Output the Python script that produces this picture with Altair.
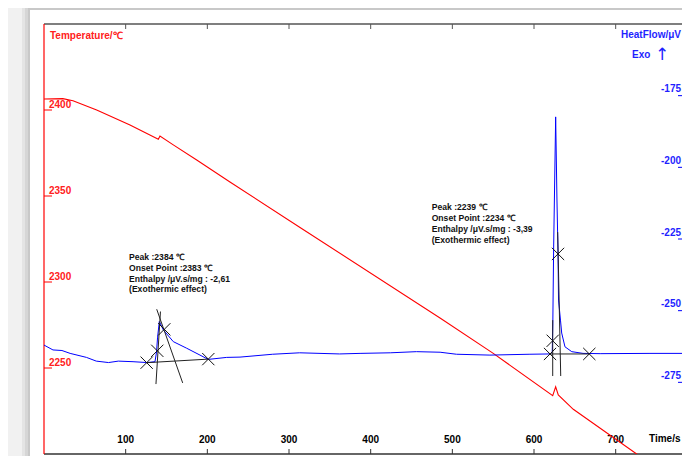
import altair as alt
import pandas as pd

# ---------------- data ----------------
temp_time = [0, 23, 35.5, 64.5, 105.3, 140.0, 142.0, 158.3, 187.0, 227.7, 313.5,
             484.9, 550.1, 622.9, 626.5, 629.7, 648.1, 725.7, 791]
temp_vals = [2406.4, 2406.6, 2405.4, 2400.0, 2391.3, 2383.0, 2384.9, 2379.7, 2370.9,
             2358.1, 2331.7, 2279.1, 2258.5, 2233.9, 2239.1, 2234.3, 2226.0, 2200.0, 2178.0]

hf_time = [0, 11, 22, 32, 52, 64, 79, 91, 109, 126,
           135.9, 137.8, 139.0, 141.2, 146.1, 158.3, 174.7, 191.0, 201.2, 223.7,
           240, 280, 313, 362, 387, 424, 456, 485, 505, 546,
           595, 619.6, 622.3, 623.0, 624.0, 626.5, 628.1, 629.4, 630.0, 632.4,
           633.9, 637.9, 646.2, 660, 681, 742, 791]
hf_vals = [-262.0, -263.7, -263.9, -264.9, -266.3, -267.6, -268.1, -267.6, -267.8, -268.1,
           -267.8, -264.4, -259.5, -253.8, -256.7, -260.8, -263.1, -265.5, -267.0, -266.3,
           -266.2, -265.2, -264.7, -265.1, -264.9, -264.7, -264.3, -264.5, -265.2, -265.5,
           -265.2, -265.1, -264.5, -255.0, -228.8, -182.4, -211.4, -230.2, -246.3, -253.3,
           -257.8, -262.6, -264.3, -264.9, -265.0, -264.9, -264.9]

# tangent / baseline construction lines (time1, time2, hf1, hf2)
tan_t1 = [125.7, 142.6, 138.0, 619.6, 622.9, 629.0]
tan_t2 = [201.2, 137.1, 169.8, 667.7, 622.9, 632.7]
tan_h1 = [-268.15, -250.3, -249.5, -265.1, -253.3, -222.6]
tan_h2 = [-266.9, -275.6, -275.2, -265.1, -272.8, -272.8]

# X markers
cross_t = [125.7, 138.7, 147.3, 201.2, 619.6, 622.9, 629.4, 667.7]
cross_h = [-268.15, -264.0, -256.5, -266.9, -265.1, -260.5, -230.2, -265.1]

# peak annotations
note_t = [104.1, 474.7]
note_h = [-229.9, -212.6]
note_text = [
    "Peak :2384 \u2103\nOnset Point :2383 \u2103\nEnthalpy /\u03bcV.s/mg : -2,61\n\u00a0(Exothermic effect)",
    "Peak :2239 \u2103\nOnset Point :2234 \u2103\nEnthalpy /\u03bcV.s/mg : -3,39\n\u00a0(Exothermic effect)",
]

time_ticks = [100, 200, 300, 400, 500, 600, 700]
temp_ticks = [2250, 2300, 2350, 2400]
hf_ticks = [-275, -250, -225, -200, -175]

# ---------------- styling ----------------
W, H = 638, 430
FONT = "Liberation Sans"
RED = "#ff0000"
BLUE = "#0000ff"
TXT_BLUE = "#1f1fff"
TXT_RED = "#ff2020"

xs = alt.Scale(domain=[0, 781.2], nice=False, zero=False)
ts = alt.Scale(domain=[2200, 2450], nice=False, zero=False)
hs = alt.Scale(domain=[-300, -150], nice=False, zero=False)

one = alt.Data(values=[{}])


def rect(x, x2, y, y2, color):
    return alt.Chart(one).mark_rect(color=color).encode(
        x=alt.value(x), x2=alt.value(x2), y=alt.value(y), y2=alt.value(y2))


def label(txt, x, y, color, size=10, weight="bold", align="left", font=FONT):
    return alt.Chart(one).mark_text(
        text=txt, align=align, baseline="middle", font=font, fontSize=size,
        fontWeight=weight, color=color).encode(x=alt.value(x), y=alt.value(y))


# page + shadow
deco = [
    rect(-22, 700, -22, 460, "#e4e4e4"),
    rect(-19, 700, -19, 460, "#d6d6d6"),
    rect(-16, 700, -16, 460, "#c8c8c8"),
    rect(-14, 700, -14, 460, "#ffffff"),
]

frame = [
    alt.Chart(one).mark_rule(color="#555555", strokeWidth=1.3).encode(
        x=alt.value(0), x2=alt.value(W), y=alt.value(0)),
    alt.Chart(one).mark_rule(color="#333333", strokeWidth=1.3).encode(
        x=alt.value(0), x2=alt.value(W), y=alt.value(H)),
]

# time axis: ticks top & bottom, labels inside
tick_df = pd.DataFrame({"t": time_ticks, "lab": [str(v) for v in time_ticks]})
top_ticks = alt.Chart(tick_df).mark_rule(color="#555555").encode(
    x=alt.X("t:Q", scale=xs, axis=None), y=alt.value(0), y2=alt.value(5))
bottom_ticks = alt.Chart(tick_df).mark_rule(color="#333333").encode(
    x=alt.X("t:Q", scale=xs, axis=None), y=alt.value(H - 5), y2=alt.value(H))
bottom_labels = alt.Chart(tick_df).mark_text(
    align="center", baseline="alphabetic", font=FONT, fontSize=10,
    fontWeight="bold", color="#000000").encode(
    x=alt.X("t:Q", scale=xs, axis=None), y=alt.value(H - 11), text="lab:N")

# ---------------- temperature group ----------------
temp_df = pd.DataFrame({"t": temp_time, "T": temp_vals})
red_line = alt.Chart(temp_df).mark_line(color=RED, strokeWidth=1.1, clip=True).encode(
    x=alt.X("t:Q", scale=xs, axis=None),
    y=alt.Y("T:Q", scale=ts, axis=None),
    order="t:Q",
)
left_tick_df = pd.DataFrame({"T": temp_ticks, "lab": [str(v) for v in temp_ticks]})
left_ticks = alt.Chart(left_tick_df).mark_rule(color=RED).encode(
    y=alt.Y("T:Q", scale=ts, axis=None), x=alt.value(0), x2=alt.value(8))
left_labels = alt.Chart(left_tick_df).mark_text(
    align="left", baseline="alphabetic", dy=-2.5, font=FONT, fontSize=10,
    fontWeight="bold", color=TXT_RED).encode(
    y=alt.Y("T:Q", scale=ts, axis=None), x=alt.value(5), text="lab:N")
left_axis_line = alt.Chart(one).mark_rule(color=RED, strokeWidth=1.2).encode(
    x=alt.value(0), y=alt.value(0), y2=alt.value(H))
temp_group = alt.layer(left_axis_line, left_ticks, left_labels, red_line)

# ---------------- heat flow group ----------------
hf_df = pd.DataFrame({"t": hf_time, "h": hf_vals})
blue_line = alt.Chart(hf_df).mark_line(color=BLUE, strokeWidth=1, clip=True).encode(
    x=alt.X("t:Q", scale=xs, axis=None),
    y=alt.Y("h:Q", scale=hs, axis=None),
    order="t:Q",
)
right_tick_df = pd.DataFrame({"h": hf_ticks, "lab": [str(v) for v in hf_ticks]})
right_ticks = alt.Chart(right_tick_df).mark_rule(color=BLUE).encode(
    y=alt.Y("h:Q", scale=hs, axis=None), x=alt.value(W - 4), x2=alt.value(W))
right_labels = alt.Chart(right_tick_df).mark_text(
    align="right", baseline="alphabetic", dy=-3.5, font=FONT, fontSize=10,
    fontWeight="bold", color=TXT_BLUE).encode(
    y=alt.Y("h:Q", scale=hs, axis=None), x=alt.value(W - 1), text="lab:N")

tan_df = pd.DataFrame({"t1": tan_t1, "t2": tan_t2, "h1": tan_h1, "h2": tan_h2})
tangents = alt.Chart(tan_df).mark_rule(color="#222222", strokeWidth=1).encode(
    x=alt.X("t1:Q", scale=xs, axis=None), x2="t2:Q",
    y=alt.Y("h1:Q", scale=hs, axis=None), y2="h2:Q")

cross_df = pd.DataFrame({"t": cross_t, "h": cross_h})
crosses = alt.Chart(cross_df).mark_point(
    shape="M-1,-1L1,1M1,-1L-1,1", size=150, filled=False, color="#111111",
    strokeWidth=1, opacity=1).encode(
    x=alt.X("t:Q", scale=xs, axis=None), y=alt.Y("h:Q", scale=hs, axis=None))

note_df = pd.DataFrame({"t": note_t, "h": note_h, "txt": note_text})
notes = alt.Chart(note_df).mark_text(
    align="left", baseline="top", lineBreak="\n", lineHeight=10.8, font=FONT,
    fontSize=8.6, fontWeight="bold", color="#111111").encode(
    x=alt.X("t:Q", scale=xs, axis=None), y=alt.Y("h:Q", scale=hs, axis=None),
    text="txt:N")

hf_group = alt.layer(right_ticks, right_labels, blue_line, tangents, crosses, notes)

# ---------------- titles ----------------
titles = [
    label("Temperature/\u2103", 6, 11.5, TXT_RED),
    label("HeatFlow/\u03bcV", 577, 11, TXT_BLUE),
    label("Exo", 588, 30.5, TXT_BLUE),
    label("\u2191", 618, 31, TXT_BLUE, size=17, weight="normal", align="center",
          font="DejaVu Sans"),
    label("Time/s", 605, 415, "#000000"),
]

chart = alt.layer(
    *deco, *frame, top_ticks, bottom_ticks, bottom_labels, temp_group, hf_group, *titles
).resolve_scale(y="independent").properties(
    width=W, height=H,
    padding={"left": 36, "top": 16, "right": 0, "bottom": 2},
    autosize=alt.AutoSizeParams(type="none"),
    background="#f1f1f1",
).configure_view(stroke="transparent")

chart.save("out.html", embed_options={"renderer": "svg", "actions": False})
